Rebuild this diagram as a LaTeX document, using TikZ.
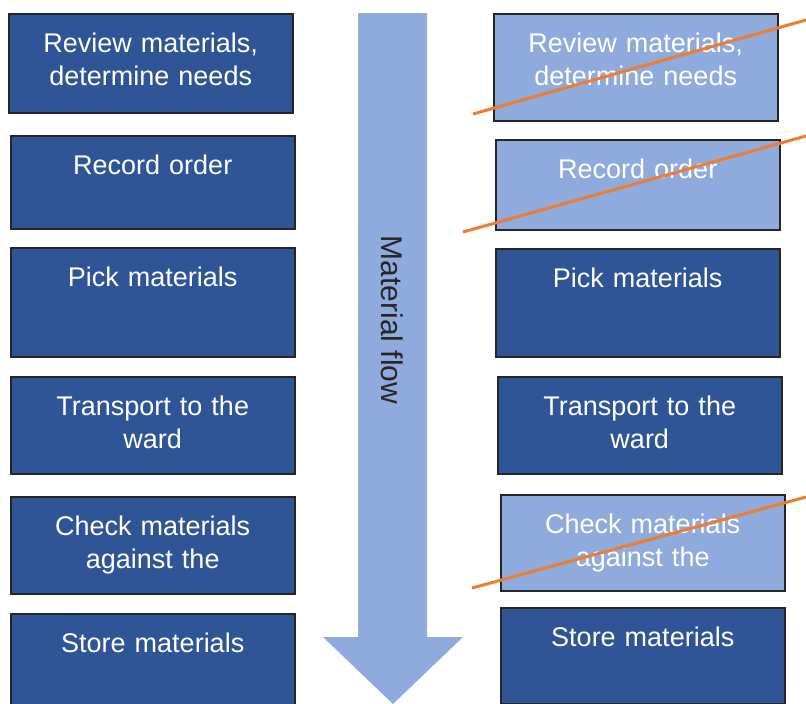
\documentclass[tikz,border=0pt]{standalone}
\usepackage{fontspec}
\setmainfont{Liberation Sans}
\definecolor{darkblue}{HTML}{2F5597}
\definecolor{lightblue}{HTML}{8FAADC}
\definecolor{strikeorange}{HTML}{ED7D31}

\begin{document}
\begin{tikzpicture}[x=1pt, y=-1pt,
    task node/.style={draw=black!85, line width=1.5pt, fill=darkblue, text=white, anchor=north west,
      inner sep=0pt, text width=284pt, align=center, text height=39pt},
    dropped node/.style={task node, fill=lightblue},
    strike/.style={draw=strikeorange, line width=3pt}]
        \tikzstyle{every node}=[font=\fontsize{27pt}{33pt}\selectfont]

          \useasboundingbox (0,0) rectangle (806,704);

          % flow arrow
          \fill[lightblue] (358,13) -- (427,13) -- (427,637) -- (463,637) -- (393,704)
            -- (323,637) -- (358,637) -- cycle;
          \node[rotate=-90, text=black!85, font=\fontsize{30pt}{36pt}\selectfont] (13) at (392.5,320) {Material flow};

          % current process
          \node[task node, text depth=60pt] (1) at (8,13) {Review materials,\\determine needs};
          \node[task node, text depth=54pt] (2) at (10,135) {Record order};
          \node[task node, text depth=70pt] (3) at (10,247) {Pick materials};
          \node[task node, text depth=58pt] (4) at (10,376) {Transport to the\\ward};
          \node[task node, text depth=58pt] (5) at (10,496) {Check materials\\against the};
          \node[task node, text depth=71pt] (6) at (10,613) {Store materials};

          % new process
          \node[dropped node, text depth=68pt] (7) at (493,13) {Review materials,\\determine needs};
          \node[dropped node, text depth=51pt] (8) at (495,139) {Record order};
          \node[task node, text depth=69pt] (9) at (495,248) {Pick materials};
          \node[task node, text depth=58pt] (10) at (497,376) {Transport to the\\ward};
          \node[dropped node, text depth=57pt] (11) at (500,494) {Check materials\\against the};
          \node[task node, text depth=57pt] (12) at (500,607) {Store materials};

          \draw[strike] (473,114) -- (806,20);
          \draw[strike] (463,232) -- (806,136);
          \draw[strike] (472,588) -- (806,497);

        \end{tikzpicture}
\end{document}
